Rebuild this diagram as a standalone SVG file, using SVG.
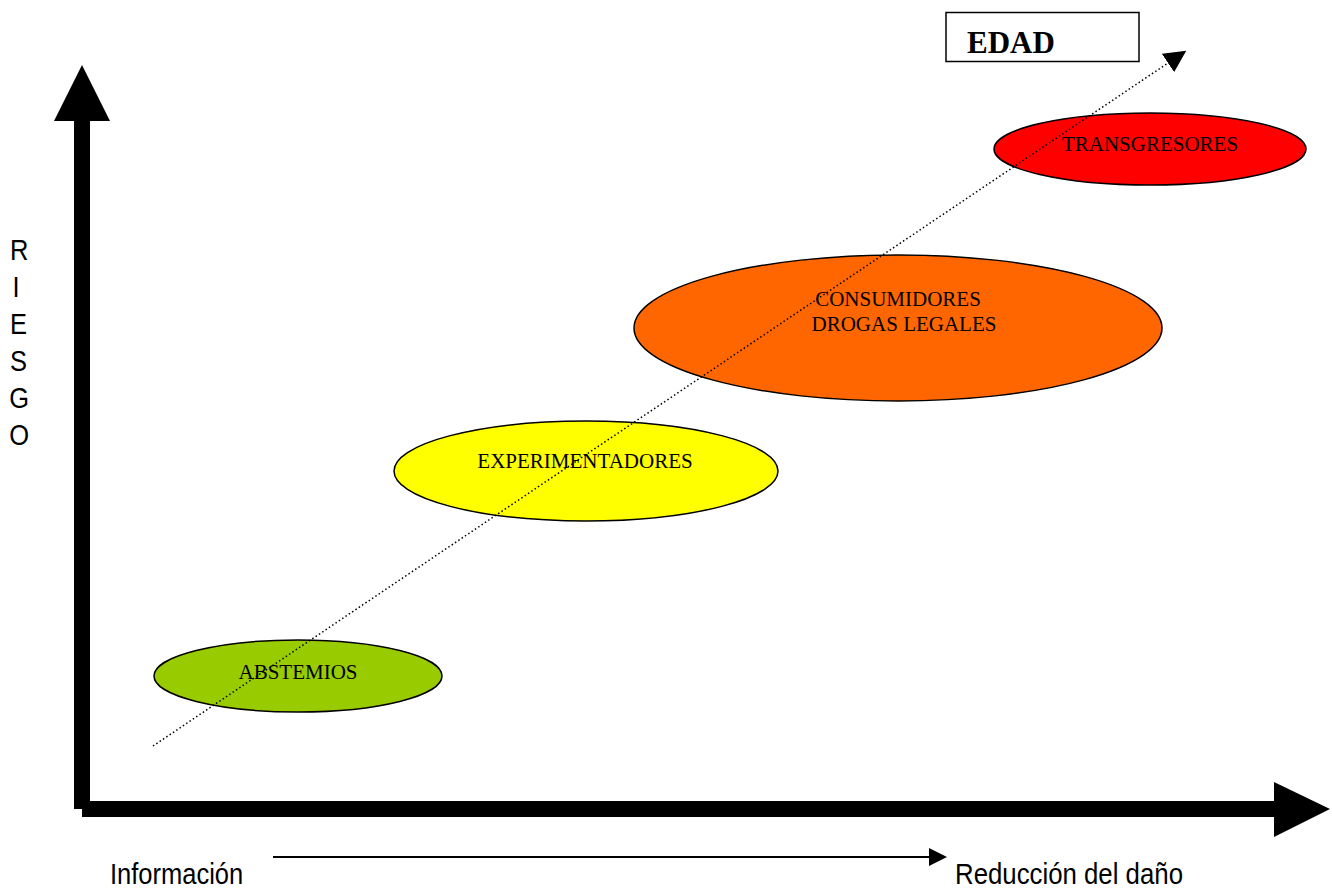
<svg xmlns="http://www.w3.org/2000/svg" width="1332" height="889" viewBox="0 0 1332 889">
<style>
.lbl{font-family:"Liberation Serif","Times New Roman",serif;font-size:21px;fill:#000;text-anchor:middle}
.ax{font-family:"Liberation Sans",Arial,sans-serif;font-size:30px;fill:#000}
.ell{stroke:#000;stroke-width:1.5}
</style>
<defs>
<marker id="tri" viewBox="0 0 10 10" refX="0" refY="5" markerUnits="userSpaceOnUse" markerWidth="22" markerHeight="22" orient="auto">
<path d="M0,0 L10,5 L0,10 z" fill="#000"/>
</marker>
<marker id="tri2" viewBox="0 0 10 10" refX="0" refY="5" markerUnits="userSpaceOnUse" markerWidth="18" markerHeight="20" orient="auto">
<path d="M0,0 L10,5 L0,10 z" fill="#000"/>
</marker>
</defs>
<rect width="1332" height="889" fill="#fff"/>
<g id="axes">
<rect x="74" y="120" width="16" height="689" fill="#000"/>
<polygon points="54,121 82,65 110,121" fill="#000"/>
<rect x="82" y="801" width="1193" height="16" fill="#000"/>
<polygon points="1274,782 1330,809 1274,837" fill="#000"/>
</g>
<g id="abstemios">
<ellipse class="ell" cx="298" cy="676" rx="144" ry="36" fill="#99CC00"/>
<text class="lbl" x="298" y="679">ABSTEMIOS</text>
</g>
<g id="experimentadores">
<ellipse class="ell" cx="586" cy="471" rx="192" ry="50" fill="#FFFF00"/>
<text class="lbl" x="585" y="468">EXPERIMENTADORES</text>
</g>
<g id="consumidores">
<ellipse class="ell" cx="898" cy="328" rx="264" ry="73" fill="#FF6600"/>
<text class="lbl" x="898" y="306">CONSUMIDORES</text>
<text class="lbl" x="904" y="331">DROGAS LEGALES</text>
</g>
<g id="transgresores">
<ellipse class="ell" cx="1150" cy="149" rx="156" ry="36" fill="#FF0000"/>
<text class="lbl" x="1150" y="151">TRANSGRESORES</text>
</g>
<g id="edad">
<rect x="946" y="12.5" width="193" height="49" fill="#fff" stroke="#000" stroke-width="1.5"/>
<text x="967" y="53" style="font-family:'Liberation Serif','Times New Roman',serif;font-size:31px;font-weight:bold">EDAD</text>
</g>
<g id="connectors">
<line x1="153" y1="746" x2="1168" y2="63" stroke="#000" stroke-width="1.5" stroke-dasharray="1.5 2.5" marker-end="url(#tri)"/>
<line x1="273" y1="857" x2="929" y2="857" stroke="#000" stroke-width="2" marker-end="url(#tri2)"/>
</g>
<g id="labels">
<text class="ax" transform="translate(110,884) scale(0.85,1)">Información</text>
<text class="ax" transform="translate(955,884) scale(0.86,1)">Reducción del daño</text>
<g transform="translate(10,0) scale(0.85,1)">
<text class="ax" x="0" y="260">R</text>
<text class="ax" x="3" y="297">I</text>
<text class="ax" x="0" y="334">E</text>
<text class="ax" x="0" y="371">S</text>
<text class="ax" x="-1" y="408">G</text>
<text class="ax" x="-1" y="445">O</text>
</g>
</g>
</svg>
